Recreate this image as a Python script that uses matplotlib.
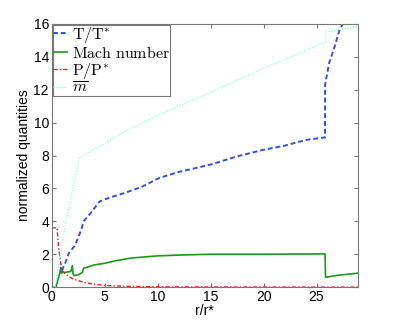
import matplotlib
matplotlib.use("Agg")
import matplotlib.pyplot as plt

# ---- data ----
r_T = [0.95, 1.3, 1.6, 2.2, 2.8, 3.0, 3.8, 4.5, 5.5, 7, 8.5, 10.2, 12, 15, 17.5, 20, 22, 24, 25.8, 25.8, 26.2, 26.7, 27.2, 27.5, 27.8]
T = [1.0, 1.5, 2.05, 2.55, 3.5, 4.0, 4.6, 5.2, 5.45, 5.75, 6.1, 6.65, 7.0, 7.45, 7.95, 8.35, 8.6, 8.95, 9.1, 12.3, 13.65, 14.6, 15.7, 16.0, 16.5]

r_M = [0, 0.4, 0.75, 0.85, 0.9, 1.0, 1.3, 1.8, 1.95, 2.0, 2.1, 2.5, 2.9, 3.0, 3.3, 4, 5, 6, 7.5, 10, 12, 15, 20, 25.8, 25.85, 27, 28.9]
M = [0, 0, 0.85, 1.2, 0.85, 0.9, 0.9, 0.95, 1.3, 0.85, 0.7, 0.75, 0.9, 1.15, 1.2, 1.35, 1.45, 1.6, 1.77, 1.9, 1.95, 2.0, 2.0, 2.02, 0.6, 0.72, 0.85]

r_P = [0, 0.5, 0.65, 0.95, 1.1, 1.5, 2.0, 2.5, 3.1, 4, 5, 7, 10, 15, 20, 28.9]
P = [3.6, 3.6, 2.4, 1.0, 0.9, 0.7, 0.5, 0.4, 0.28, 0.18, 0.1, 0.05, 0.02, 0.01, 0.005, 0.0]

r_m = [0.3, 0.65, 1.2, 2.15, 2.65, 3.5, 4.8, 7, 10.2, 15, 20, 25.85, 25.85, 28.9]
m = [0, 1.45, 3.5, 6.5, 7.9, 8.2, 8.65, 9.5, 10.5, 11.85, 13.3, 14.9, 15.5, 15.85]

labels = [r'$\mathrm{T/T^{*}}$', r'$\mathrm{Mach\ number}$', r'$\mathrm{P/P^{*}}$', r'$\overline{m}$']
xticks = [0, 5, 10, 15, 20, 25]
yticks = [0, 2, 4, 6, 8, 10, 12, 14, 16]

plt.rcParams['font.family'] = ['Liberation Sans', 'DejaVu Sans']
plt.rcParams['mathtext.fontset'] = 'cm'

fig = plt.figure(figsize=(3.95, 3.23), dpi=100)
ax = fig.add_axes([0.131, 0.111, 0.775, 0.815])

ax.plot(r_T, T, color='#3050ee', ls=(0, (2.5, 1.5)), lw=1.4, label=labels[0])
ax.plot(r_M, M, color='#1a9a1a', ls='-', lw=1.2, label=labels[1])
ax.plot(r_P, P, color='#ee2020', ls=(0, (3, 1.5, 1, 1.5)), lw=1.0, label=labels[2])
ax.plot(r_m, m, color='#99ffe6', ls=(0, (1, 1)), lw=1.0, label=labels[3])

ax.set_xlim(0, 28.9)
ax.set_ylim(0, 16)
ax.set_xticks(xticks)
ax.set_yticks(yticks)
ax.tick_params(direction='in', top=True, right=True, labelsize=10, length=3, color='#777777', pad=2)
for s in ax.spines.values():
    s.set_color('#777777')
ax.set_xlabel('r/r*', fontsize=10, labelpad=0)
ax.set_ylabel('normalized quantities', fontsize=10, labelpad=2)

leg = ax.legend(loc='upper left', fontsize=11.5, handlelength=0.9, handletextpad=0.3,
                labelspacing=0.0, borderpad=0.0, borderaxespad=0.05, fancybox=False,
                framealpha=1, edgecolor='#777777')
leg.get_frame().set_linewidth(0.8)

fig.savefig('out.png', dpi=100)
